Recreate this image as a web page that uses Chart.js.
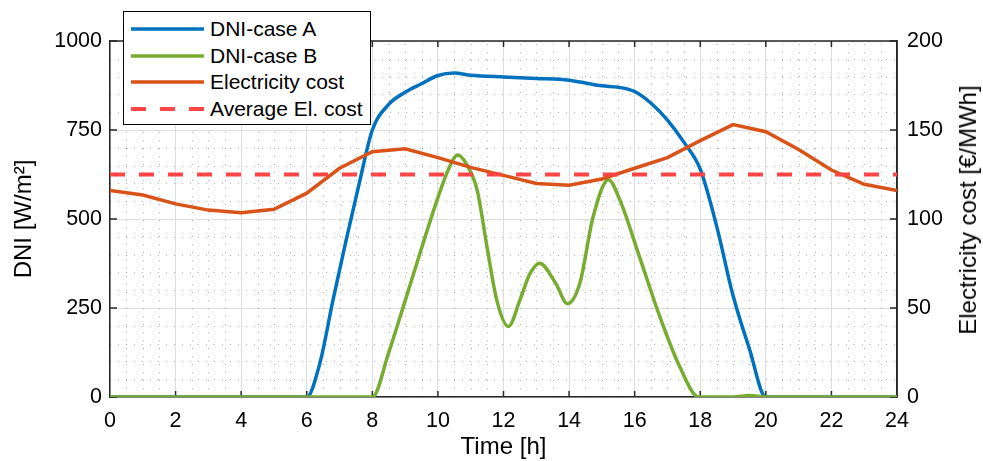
<!DOCTYPE html>
<html lang="en">
<head>
  <meta charset="UTF-8">
  <title>DNI and electricity cost</title>
  <script src="https://cdn.jsdelivr.net/npm/chart.js"></script>
  <style>
    body { margin: 0; background: #fff; }
    #wrap { position: relative; width: 983px; height: 461px; }
    #legend {
      position: absolute; left: 123px; top: 11px; width: 248px; height: 114px;
      border: 1px solid #000; background: #fff; padding: 4px 0 0 7px; box-sizing: border-box;
      font-family: "Liberation Sans", Arial, Helvetica, sans-serif; font-size: 21px; color: #000;
    }
    #legend .row { display: flex; align-items: center; height: 26.5px; }
    #legend svg { margin-right: 6px; }
    #rightTitle {
      position: absolute; left: 968px; top: 210px; white-space: nowrap;
      transform: translate(-50%, -50%) rotate(-90deg);
      font-family: "Liberation Sans", Arial, Helvetica, sans-serif; font-size: 24px; color: #000;
    }
  </style>
</head>
<body>

  <div id="wrap">
    <canvas id="chart0" width="983" height="461"></canvas>
    <div id="legend"></div>
    <div id="rightTitle">Electricity cost [€/MWh]</div>
  </div>

  <script>
    /* Case A: clear-sky DNI [W/m2] */
    const timeA = [0, 6, 6.4, 6.8, 7.2, 7.6, 8, 8.5, 9, 9.5, 10, 10.5, 11, 12, 13, 14, 14.5,
      15, 15.5, 16, 16.5, 17, 17.5, 18, 18.5, 19, 19.5, 20, 24]
    const dniA = [0, 0, 95, 272, 440, 600, 750, 822, 856, 880, 903, 910, 904, 899, 895, 890, 882,
      874, 870, 858, 825, 778, 716, 640, 480, 285, 135, 0, 0]

    /* Case B: cloudy DNI [W/m2] */
    const timeB = [0, 8, 8.5, 9, 9.5, 10, 10.3, 10.6, 10.9, 11.2, 11.5, 11.8, 12.15, 12.5, 12.8, 13.1, 13.6,
      13.95, 14.33, 14.73, 15.2, 15.55, 16.15, 16.77, 17.38, 17.95, 19, 19.5, 20, 24]
    const dniB = [0, 0, 125, 270, 418, 560, 635, 680, 650, 580, 420, 270, 198, 272, 345, 376, 318,
      262, 320, 505, 610, 553, 393, 225, 84, 0, 0, 4, 0, 0]

    /* Hourly electricity cost [EUR/MWh] */
    const hours = [0, 1, 2, 3, 4, 5, 6, 7, 8, 9, 10, 11, 12, 13, 14, 15, 16, 17, 18, 19, 20, 21, 22, 23, 24]
    const cost = [116, 113.5, 108.5, 105, 103.5, 105.5, 114.5, 128.5, 137.8, 139.5, 134.5, 129, 124.5, 120,
      119, 122.5, 128.5, 134.5, 144, 153, 149, 139, 127.5, 119.5, 116]
    const avgCost = 125

    const dniTicks = [0, 250, 500, 750, 1000]
    const costTicks = [0, 50, 100, 150, 200]

    const FONT = "'Liberation Sans', Arial, Helvetica, sans-serif"

    const toPoints = (xs, ys) => xs.map((x, i) => ({ x: x, y: ys[i] }))

    /* Dotted minor grid, top/right box edges and inward ticks (MATLAB look). */
    const boxPlugin = {
      id: 'box',
      beforeDatasetsDraw(chart) {
        const { ctx, chartArea: a, scales } = chart
        const x = scales.x, y = scales.y, y2 = scales.y2
        ctx.save()
        ctx.strokeStyle = 'rgba(0,0,0,0.3)'
        ctx.lineWidth = 1
        ctx.setLineDash([1, 7])
        for (let t = 0.5; t < 24; t += 0.5) {
          if (t % 2 === 0) continue
          const px = Math.round(x.getPixelForValue(t)) + 0.5
          ctx.beginPath(); ctx.moveTo(px, a.bottom); ctx.lineTo(px, a.top); ctx.stroke()
        }
        for (let v = 50; v < 1000; v += 50) {
          if (v % 250 === 0) continue
          const py = Math.round(y.getPixelForValue(v)) + 0.5
          ctx.beginPath(); ctx.moveTo(a.left, py); ctx.lineTo(a.right, py); ctx.stroke()
        }
        ctx.setLineDash([])
        ctx.strokeStyle = '#262626'
        ctx.lineWidth = 1.5
        ctx.beginPath()
        ctx.moveTo(a.left, a.top); ctx.lineTo(a.right, a.top); ctx.lineTo(a.right, a.bottom)
        ctx.stroke()
        for (let t = 2; t < 24; t += 2) {
          const px = x.getPixelForValue(t)
          ctx.beginPath(); ctx.moveTo(px, a.bottom); ctx.lineTo(px, a.bottom - 6); ctx.stroke()
          ctx.beginPath(); ctx.moveTo(px, a.top); ctx.lineTo(px, a.top + 6); ctx.stroke()
        }
        dniTicks.forEach(v => {
          const py = y.getPixelForValue(v)
          ctx.beginPath(); ctx.moveTo(a.left, py); ctx.lineTo(a.left + 7, py); ctx.stroke()
        })
        costTicks.forEach(v => {
          const py = y2.getPixelForValue(v)
          ctx.beginPath(); ctx.moveTo(a.right, py); ctx.lineTo(a.right - 7, py); ctx.stroke()
        })
        ctx.restore()
      }
    }

    const ctx0 = document.getElementById("chart0").getContext("2d")
    const myChart0 = new Chart(ctx0, {
      type: 'line',
      data: {
        datasets: [
          {
            label: 'DNI-case A', data: toPoints(timeA, dniA), yAxisID: 'y',
            borderColor: '#0072BD', borderWidth: 3.5, cubicInterpolationMode: 'monotone', order: 4
          },
          {
            label: 'DNI-case B', data: toPoints(timeB, dniB), yAxisID: 'y',
            borderColor: '#77AC30', borderWidth: 3.5, cubicInterpolationMode: 'monotone', order: 3
          },
          {
            label: 'Electricity cost', data: toPoints(hours, cost), yAxisID: 'y2',
            borderColor: '#D95319', borderWidth: 3.5, tension: 0, order: 2
          },
          {
            label: 'Average El. cost', data: toPoints([0, 24], [avgCost, avgCost]), yAxisID: 'y2',
            borderColor: '#FF4545', borderWidth: 4, borderDash: [15, 14], tension: 0, order: 1
          }
        ]
      },
      options: {
        responsive: false,
        animation: false,
        devicePixelRatio: 1,
        layout: { padding: { top: 41, left: 0, right: 0, bottom: 0 } },
        elements: { point: { radius: 0 } },
        plugins: { legend: { display: false }, tooltip: { enabled: false } },
        scales: {
          x: {
            type: 'linear', min: 0, max: 24,
            afterFit: s => { s.height = 64 },
            ticks: { stepSize: 2, color: '#000', font: { family: FONT, size: 21.5 }, padding: 11, maxRotation: 0 },
            grid: { color: '#dedede', lineWidth: 1, drawTicks: false },
            border: { color: '#262626', width: 1.5 },
            title: { display: true, text: 'Time [h]', color: '#000', font: { family: FONT, size: 24 }, padding: { top: 0, bottom: -1 } }
          },
          y: {
            position: 'left', min: 0, max: 1000,
            afterFit: s => { s.width = 110 },
            afterBuildTicks: s => { s.ticks = dniTicks.map(v => ({ value: v })) },
            ticks: { color: '#000', font: { family: FONT, size: 21.5 }, padding: 8, callback: v => String(v) },
            grid: { color: '#dedede', lineWidth: 1, drawTicks: false },
            border: { color: '#262626', width: 1.5 },
            title: { display: true, text: 'DNI [W/m²]', color: '#000', font: { family: FONT, size: 24 }, padding: { top: 10 } }
          },
          y2: {
            position: 'right', min: 0, max: 200,
            afterFit: s => { s.width = 86 },
            afterBuildTicks: s => { s.ticks = costTicks.map(v => ({ value: v })) },
            ticks: { color: '#000', font: { family: FONT, size: 21.5 }, padding: 10, callback: v => String(v) },
            grid: { drawOnChartArea: false, drawTicks: false },
            border: { color: '#262626', width: 1.5 },
            title: { display: false }
          }
        }
      },
      plugins: [boxPlugin]
    })

    /* HTML legend built from the datasets. */
    const legend = document.getElementById("legend")
    myChart0.data.datasets.forEach(ds => {
      const row = document.createElement("div")
      row.className = "row"
      const dash = ds.borderDash ? ds.borderDash.join(' ') : 'none'
      row.innerHTML = '<svg width="73" height="8"><line x1="0" y1="4" x2="73" y2="4" stroke="' + ds.borderColor +
        '" stroke-width="' + ds.borderWidth + '" stroke-dasharray="' + dash + '"/></svg><span>' + ds.label + '</span>'
      legend.appendChild(row)
    })
  </script>

</body>
</html>
